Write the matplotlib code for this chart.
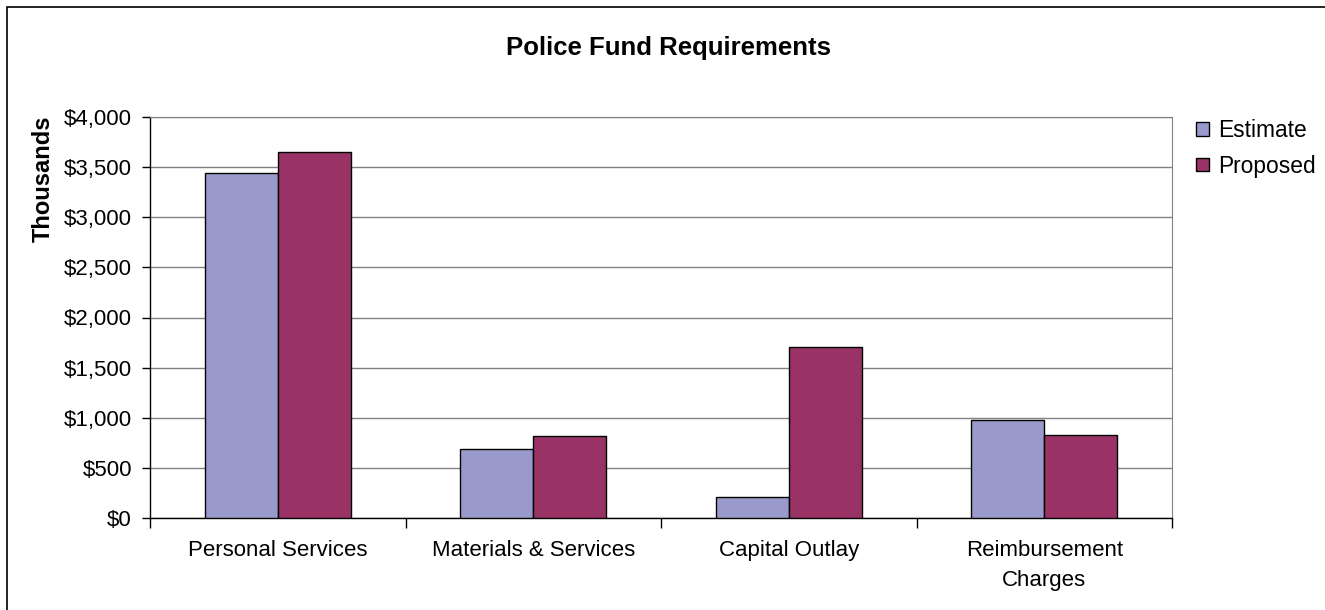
import matplotlib
matplotlib.use("Agg")
import matplotlib.pyplot as plt
import numpy as np
from matplotlib.ticker import FuncFormatter

categories = ["Personal Services", "Materials & Services", "Capital Outlay",
              "Reimbursement\nCharges"]
estimate = [3440, 690, 210, 975]
proposed = [3650, 815, 1710, 830]
series_names = ["Estimate", "Proposed"]

plt.rcParams["font.family"] = ["Liberation Sans", "DejaVu Sans"]

W, H = 1325, 610
fig = plt.figure(figsize=(W / 100, H / 100), dpi=100)
ax = fig.add_axes([150 / W, 1 - 518 / H, (1172 - 150) / W, (518 - 117) / H])

x = np.arange(len(categories))
bw = 0.285
ax.bar(x - bw / 2, estimate, bw, color="#9999CC", edgecolor="black", linewidth=1,
       label=series_names[0], zorder=3)
ax.bar(x + bw / 2, proposed, bw, color="#993366", edgecolor="black", linewidth=1,
       label=series_names[1], zorder=3)

ax.set_xlim(-0.5, len(categories) - 0.5)
ax.set_ylim(0, 4000)
ax.set_yticks(np.arange(0, 4001, 500))
ax.yaxis.set_major_formatter(FuncFormatter(lambda v, p: f"${v:,.0f}"))
ax.yaxis.grid(True, color="#808080", linewidth=1, zorder=0)

# category labels centred, ticks on the boundaries
ax.set_xticks(x)
ax.set_xticklabels(categories, fontsize=16, linespacing=1.6)
ax.tick_params(axis="x", length=0, pad=15.5)
ax.set_xticks(np.arange(-0.5, len(categories)), minor=True)
ax.tick_params(axis="x", which="minor", length=7, direction="out", width=1)
ax.tick_params(axis="y", length=6, direction="out", width=1, labelsize=16, pad=7)

for s in ("top", "right"):
    ax.spines[s].set_color("#808080")
for s in ("left", "bottom"):
    ax.spines[s].set_color("black")
    ax.spines[s].set_linewidth(1)

fig.text(43 / W, 1 - 179 / H, "Thousands", rotation=90, ha="center", va="center",
         fontsize=17, fontweight="bold")
fig.text(669 / W, 1 - 48 / H, "Police Fund Requirements", ha="center", va="center",
         fontsize=18.5, fontweight="bold")

ax.legend(loc="upper left", bbox_to_anchor=(1196 / W, 1 - 119 / H),
          bbox_transform=fig.transFigure, frameon=False, fontsize=16.4,
          handlelength=0.55, handleheight=0.55, handletextpad=0.4, labelspacing=0.55,
          borderaxespad=0, borderpad=0)

# outer chart border
fig.add_artist(plt.Rectangle((7 / W, -0.1), 1.2, 1 - 7 / H + 0.1,
                             transform=fig.transFigure, fill=False,
                             edgecolor="black", linewidth=1.2))

fig.savefig("out.png", dpi=100)
